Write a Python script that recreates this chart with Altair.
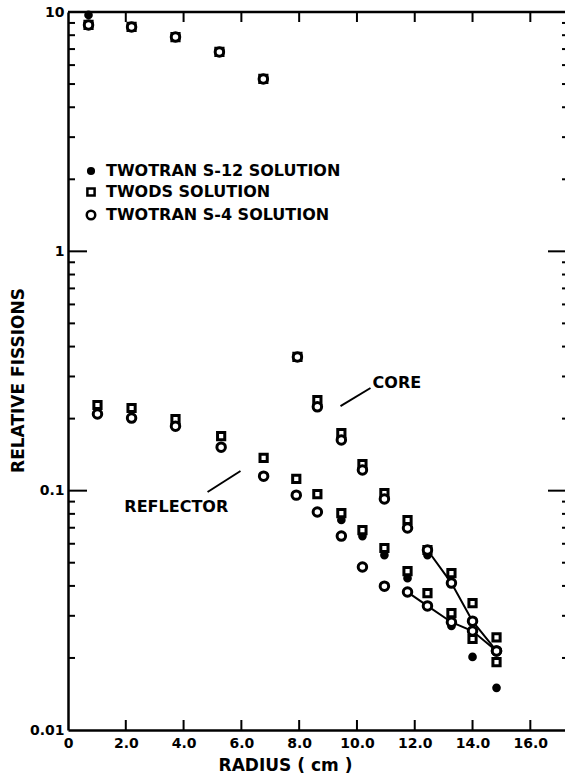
import altair as alt
import pandas as pd

FONT = "DejaVu Sans"
SERIES = ["TWOTRAN S-12 SOLUTION", "TWODS SOLUTION", "TWOTRAN S-4 SOLUTION"]

# ---- data (radius in cm, relative fissions) ----
core_radius = [0.71, 2.20, 3.72, 5.24, 6.76, 7.94, 8.63, 9.46, 10.19, 10.95, 11.75, 12.44, 13.27, 14.00, 14.83]
core_s12 = [9.72, None, None, None, None, None, None, None, 0.122, 0.0923, None, 0.0538, None, None, None]
core_twods = [8.83, 8.66, 7.86, 6.81, 5.25, 0.362, 0.239, 0.174, 0.129, 0.0977, 0.0754, 0.0565, 0.0452, 0.0339, 0.0244]
core_s4 = [8.83, 8.66, 7.86, 6.81, 5.25, 0.362, 0.224, 0.163, 0.122, 0.0923, 0.0698, 0.0565, 0.0411, 0.0285, 0.0214]

refl_radius = [1.02, 2.20, 3.72, 5.30, 6.77, 7.90, 8.63, 9.46, 10.19, 10.95, 11.75, 12.44, 13.27, 14.00, 14.83]
refl_s12 = [None, None, None, None, None, None, None, 0.0754, 0.0646, 0.0538, 0.0431, None, 0.0272, 0.0202, 0.0150]
refl_twods = [0.228, 0.2215, 0.199, 0.169, 0.137, 0.112, 0.0968, 0.0806, 0.0684, 0.0576, 0.0461, 0.0373, 0.0308, 0.0240, 0.0192]
refl_s4 = [0.209, 0.201, 0.186, 0.152, 0.115, 0.0958, 0.0814, 0.0646, 0.0480, 0.0399, 0.0377, 0.0330, 0.0282, 0.0259, 0.0214]

# S-4 points joined by lines from these radii on
core_line_from = 12.44
refl_line_from = 11.75

x_tick_values = [0, 2, 4, 6, 8, 10, 12, 14, 16]
y_tick_values = [0.01, 0.1, 1, 10]

annot_labels = ["CORE", "REFLECTOR"]
annot_r = [10.54, 1.95]
annot_v = [0.2816, 0.0854]
leader_r = [9.43, 4.83]
leader_v = [0.2257, 0.0987]
leader_r2 = [10.47, 5.97]
leader_v2 = [0.2685, 0.1208]

# ---- build tables ----
rows = []
for name, region, radii, vals in [
    (SERIES[0], "core", core_radius, core_s12),
    (SERIES[0], "refl", refl_radius, refl_s12),
    (SERIES[1], "core", core_radius, core_twods),
    (SERIES[1], "refl", refl_radius, refl_twods),
    (SERIES[2], "core", core_radius, core_s4),
    (SERIES[2], "refl", refl_radius, refl_s4),
]:
    for r, v in zip(radii, vals):
        if v is not None:
            rows.append({"radius": r, "value": v, "series": name, "region": region})
df = pd.DataFrame(rows)
df["order"] = range(len(df))

line_df = df[(df["series"] == SERIES[2]) & (
    ((df["region"] == "core") & (df["radius"] >= core_line_from)) |
    ((df["region"] == "refl") & (df["radius"] >= refl_line_from)))]

W, H = 497, 718
xscale = alt.Scale(domain=[0, 17.2], nice=False, zero=False)
yscale = alt.Scale(type="log", domain=[0.01, 10], nice=False)

legend = alt.Legend(
    orient="none", legendX=15, legendY=151, title=None, padding=0,
    labelFont=FONT, labelFontSize=16, labelFontWeight="bold", labelColor="black",
    labelLimit=0, symbolStrokeWidth=2.5, rowPadding=4, labelOffset=7,
)

x_axis = alt.Axis(
    values=x_tick_values, ticks=False, grid=False, domainColor="black", domainWidth=2.5,
    labelExpr="datum.value == 0 ? '0' : format(datum.value, '.1f')",
    labelFont=FONT, labelFontSize=14, labelFontWeight="bold", labelColor="black",
    labelPadding=6, labelFlush=False,
    title="RADIUS   ( cm )", titleFont=FONT, titleFontSize=17, titleFontWeight="bold",
    titleColor="black", titleX=217, titleY=35, titleAlign="center", titleBaseline="middle",
)
y_axis = alt.Axis(
    values=y_tick_values, ticks=False, grid=False, domainColor="black", domainWidth=2.5,
    format="~g", labelFont=FONT, labelFontSize=14, labelFontWeight="bold", labelColor="black",
    labelPadding=4,
    title="RELATIVE FISSIONS", titleFont=FONT, titleFontSize=17, titleFontWeight="bold",
    titleColor="black", titleX=-50, titleY=368, titleAngle=-90, titleAlign="center",
    titleBaseline="middle",
)


def X(field):
    return alt.X(field, scale=xscale, axis=x_axis)


def Y(field):
    return alt.Y(field, scale=yscale, axis=y_axis)


lines = alt.Chart(line_df).mark_line(color="black", strokeWidth=2).encode(
    x=X("radius:Q"), y=Y("value:Q"), detail="region:N", order="radius:Q",
)

points = alt.Chart(df).mark_point(strokeWidth=3, opacity=1).encode(
    x=X("radius:Q"),
    y=Y("value:Q"),
    shape=alt.Shape("series:N", scale=alt.Scale(domain=SERIES, range=["circle", "square", "circle"]), legend=legend),
    fill=alt.Fill("series:N", scale=alt.Scale(domain=SERIES, range=["black", "white", "white"]), legend=legend),
    stroke=alt.Stroke("series:N", scale=alt.Scale(domain=SERIES, range=["black", "black", "black"]), legend=legend),
    size=alt.Size("series:N", scale=alt.Scale(domain=SERIES, range=[32, 72, 44]), legend=legend),
    order="order:Q",
)

ymaj = pd.DataFrame({"v": [0.1, 1]})
ymin = pd.DataFrame({"v": [m * 10.0 ** e for e in (-2, -1, 0) for m in range(2, 10)]})
xt = pd.DataFrame({"r": x_tick_values[1:]})

left_major = alt.Chart(ymaj).mark_rule(color="black", strokeWidth=2).encode(
    y=Y("v:Q"), x=alt.value(0), x2=alt.value(19))
left_minor = alt.Chart(ymin).mark_rule(color="black", strokeWidth=2).encode(
    y=Y("v:Q"), x=alt.value(0), x2=alt.value(7))
right_major = alt.Chart(ymaj).mark_rule(color="black", strokeWidth=2).encode(
    y=Y("v:Q"), x=alt.value(W - 17), x2=alt.value(W))
right_minor = alt.Chart(ymin).mark_rule(color="black", strokeWidth=2).encode(
    y=Y("v:Q"), x=alt.value(W - 3), x2=alt.value(W))
bottom_ticks = alt.Chart(xt).mark_rule(color="black", strokeWidth=2).encode(
    x=X("r:Q"), y=alt.value(H - 10), y2=alt.value(H))
top_ticks = alt.Chart(xt).mark_rule(color="black", strokeWidth=2).encode(
    x=X("r:Q"), y=alt.value(0), y2=alt.value(10))
top_border = alt.Chart(pd.DataFrame({"a": [0]})).mark_rule(color="black", strokeWidth=2.5).encode(
    x=alt.value(0), x2=alt.value(W), y=alt.value(0))

annot = pd.DataFrame({"label": annot_labels, "r": annot_r, "v": annot_v})
texts = alt.Chart(annot).mark_text(
    align="left", baseline="middle", font=FONT, fontSize=16, fontWeight="bold", color="black"
).encode(x=X("r:Q"), y=Y("v:Q"), text="label:N")
leaders = alt.Chart(pd.DataFrame({"r": leader_r, "v": leader_v, "r2": leader_r2, "v2": leader_v2})).mark_rule(
    color="black", strokeWidth=2
).encode(x=X("r:Q"), x2="r2:Q", y=Y("v:Q"), y2="v2:Q")

chart = alt.layer(
    lines, points, left_major, left_minor, right_major, right_minor,
    bottom_ticks, top_ticks, top_border, texts, leaders,
).properties(
    width=W, height=H,
    padding={"left": 68, "right": 0, "top": 12, "bottom": 45},
    autosize=alt.AutoSizeParams(type="none"),
    background="white",
).configure_view(stroke=None)

chart.save("out.html", embed_options={"renderer": "svg", "actions": False})
